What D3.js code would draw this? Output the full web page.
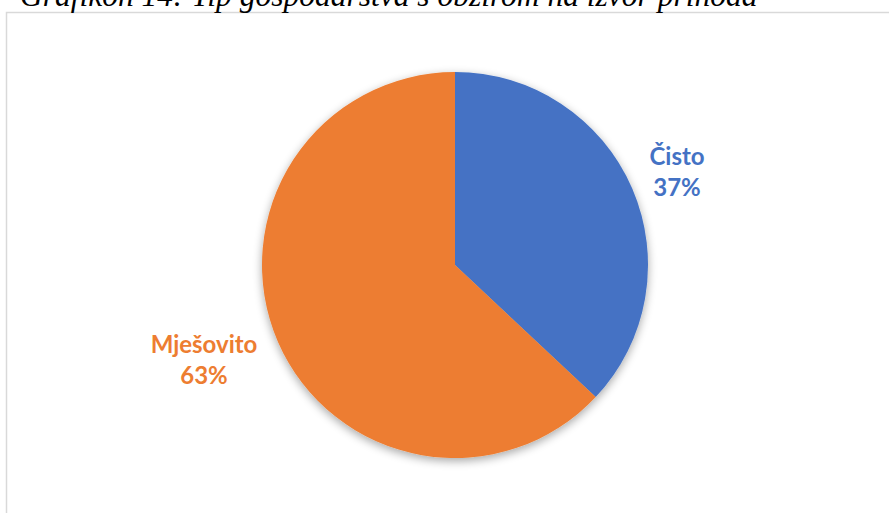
<!DOCTYPE html>
<html lang="hr">
<head>
  <meta charset="UTF-8">
  <title>Grafikon 14</title>
  <script src="https://d3js.org/d3.v7.min.js"></script>
  <style>
    body { margin: 0; background: #fff; }
    .title { font-family: "Liberation Serif", "Times New Roman", serif; font-style: italic; font-size: 31.5px; fill: #000; }
    .label { font-family: Lato, "Open Sans", sans-serif; font-weight: bold; font-size: 24px; }
  </style>
</head>
<body>
  <div id="chart"></div>
  <script>
    // ---------------- Data ----------------
    const categories = ["Čisto", "Mješovito"];
    const values = [37, 63];
    const colors = ["#4472c4", "#ed7d31"];
    const titleText = "Grafikon 14: Tip gospodarstva s obzirom na izvor prihoda";

    // ---------------- Setup ----------------
    const width = 889, height = 513;
    const cx = 455, cy = 265, radius = 193;

    const svg = d3.select("#chart").append("svg")
      .attr("width", width)
      .attr("height", height);

    const defs = svg.append("defs");
    const shadow = defs.append("filter").attr("id", "shadow")
      .attr("x", "-20%").attr("y", "-20%").attr("width", "140%").attr("height", "140%");
    shadow.append("feGaussianBlur").attr("in", "SourceAlpha").attr("stdDeviation", 5);
    shadow.append("feOffset").attr("dx", 0).attr("dy", 3).attr("result", "blur");
    shadow.append("feComponentTransfer").append("feFuncA").attr("type", "linear").attr("slope", 0.35);
    const merge = shadow.append("feMerge");
    merge.append("feMergeNode");
    merge.append("feMergeNode").attr("in", "SourceGraphic");

    // chart frame
    svg.append("rect")
      .attr("x", 6.5).attr("y", 12.5)
      .attr("width", 900).attr("height", 520)
      .attr("fill", "#fff")
      .attr("stroke", "#d9d9d9")
      .attr("stroke-width", 1.5);

    svg.append("text")
      .attr("class", "title")
      .attr("x", 20).attr("y", 6)
      .text(titleText);

    // ---------------- Pie ----------------
    const data = categories.map((c, i) => ({ name: c, value: values[i], color: colors[i] }));
    const pie = d3.pie().value(d => d.value).sort(null);
    const arc = d3.arc().innerRadius(0).outerRadius(radius);
    const arcs = pie(data);

    const g = svg.append("g").attr("transform", `translate(${cx},${cy})`);

    g.append("g").attr("filter", "url(#shadow)")
      .selectAll("path")
      .data(arcs)
      .join("path")
      .attr("d", arc)
      .attr("fill", d => d.data.color);

    // labels outside the slices (offsets from the pie centre)
    const labelPos = [[222, -100], [-251, 88]];

    const labels = g.selectAll(".label")
      .data(arcs)
      .join("text")
      .attr("class", "label")
      .attr("text-anchor", "middle")
      .attr("fill", d => d.data.color)
      .attr("transform", (d, i) => `translate(${labelPos[i][0]},${labelPos[i][1]})`);

    labels.append("tspan").attr("x", 0).attr("dy", 0).text(d => d.data.name);
    labels.append("tspan").attr("x", 0).attr("dy", 31).text(d => `${d.data.value}%`);
  </script>
</body>
</html>
